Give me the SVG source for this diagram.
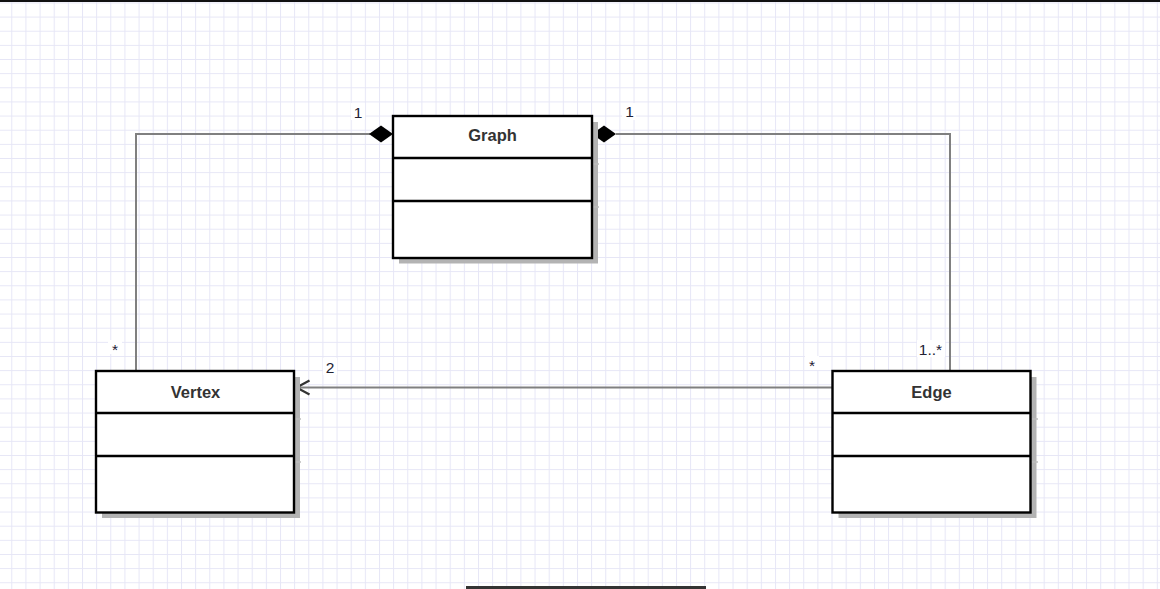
<svg xmlns="http://www.w3.org/2000/svg" width="1160" height="589" viewBox="0 0 1160 589">
  <defs>
    <pattern id="grid" patternUnits="userSpaceOnUse" x="11.3" y="16.6" width="14.142" height="14.142">
      <path d="M0.5 0 V14.142 M0 0.5 H14.142" stroke="#e6e6f6" stroke-width="1" fill="none"/>
    </pattern>
  </defs>
  <style>
    .box { fill: #ffffff; stroke: #000000; stroke-width: 2.4; }
    .sep { stroke: #000000; stroke-width: 2.4; }
    .shadow { fill: #b3b3b3; }
    .tick { stroke: #bdbdbd; stroke-width: 1.5; }
    .name { font-family: "Liberation Sans", Arial, sans-serif; font-size: 16.5px; font-weight: bold; fill: #333333; text-anchor: middle; }
    .lbl { font-family: "Liberation Sans", Arial, sans-serif; font-size: 15.5px; fill: #222233; text-anchor: middle; }
    .lblbg { fill: #ffffff; }
    .conn { fill: none; stroke: #808080; stroke-width: 2; }
    .diamond { fill: #000000; }
  </style>

  <rect x="0" y="0" width="1160" height="589" fill="#ffffff"/>
  <rect x="0" y="0" width="1160" height="589" fill="url(#grid)"/>
  <rect x="0" y="0" width="1160" height="2" fill="#111111"/>
  <rect x="466" y="586" width="240" height="3" fill="#333333"/>

  <g id="connectors">
    <path class="conn" d="M370 134 H136 V371"/>
    <polygon class="diamond" points="369,134 381,125.5 393,134 381,142.5"/>
    <path class="conn" d="M616 134 H950 V371"/>
    <polygon class="diamond" points="592,134 604,125.5 616,134 604,142.5"/>
    <path class="conn" d="M832 387.5 H297"/>
    <path d="M309.5 380.5 L296.5 387.5 L309.5 394.5" fill="none" stroke="#333333" stroke-width="2.2"/>
  </g>

  <g id="labels">
    <rect class="lblbg" x="351" y="103" width="14" height="17"/>
    <text class="lbl" x="358" y="117.5">1</text>
    <rect class="lblbg" x="622" y="103" width="14" height="17"/>
    <text class="lbl" x="629.5" y="117">1</text>
    <rect class="lblbg" x="108" y="340" width="14" height="14"/>
    <text class="lbl" x="115" y="354.5">*</text>
    <rect class="lblbg" x="323" y="358" width="14" height="17"/>
    <text class="lbl" x="330" y="372.5">2</text>
    <rect class="lblbg" x="805" y="356" width="14" height="14"/>
    <text class="lbl" x="812" y="371">*</text>
    <rect class="lblbg" x="917" y="340" width="28" height="17"/>
    <text class="lbl" x="930.5" y="354.5">1..*</text>
  </g>

  <g id="graph">
    <rect class="shadow" x="399" y="122" width="199" height="141.5"/>
    <line class="tick" x1="592" y1="164" x2="599" y2="164"/>
    <line class="tick" x1="592" y1="207" x2="599" y2="207"/>
    <rect class="box" x="393" y="116" width="199" height="142"/>
    <line class="sep" x1="393" y1="158" x2="592" y2="158"/>
    <line class="sep" x1="393" y1="201" x2="592" y2="201"/>
    <text class="name" x="492.5" y="141">Graph</text>
  </g>

  <g id="vertex">
    <rect class="shadow" x="102" y="377" width="198" height="141"/>
    <line class="tick" x1="294" y1="419" x2="301" y2="419"/>
    <line class="tick" x1="294" y1="462" x2="301" y2="462"/>
    <rect class="box" x="96" y="371" width="198" height="141.5"/>
    <line class="sep" x1="96" y1="413" x2="294" y2="413"/>
    <line class="sep" x1="96" y1="456" x2="294" y2="456"/>
    <text class="name" x="195.5" y="397.5">Vertex</text>
  </g>

  <g id="edge">
    <rect class="shadow" x="838.5" y="377" width="198" height="141"/>
    <line class="tick" x1="1031" y1="419" x2="1038" y2="419"/>
    <line class="tick" x1="1031" y1="462" x2="1038" y2="462"/>
    <rect class="box" x="832.5" y="371" width="198" height="141.5"/>
    <line class="sep" x1="832.5" y1="413" x2="1030.5" y2="413"/>
    <line class="sep" x1="832.5" y1="456" x2="1030.5" y2="456"/>
    <text class="name" x="931.5" y="397.5">Edge</text>
  </g>
</svg>
